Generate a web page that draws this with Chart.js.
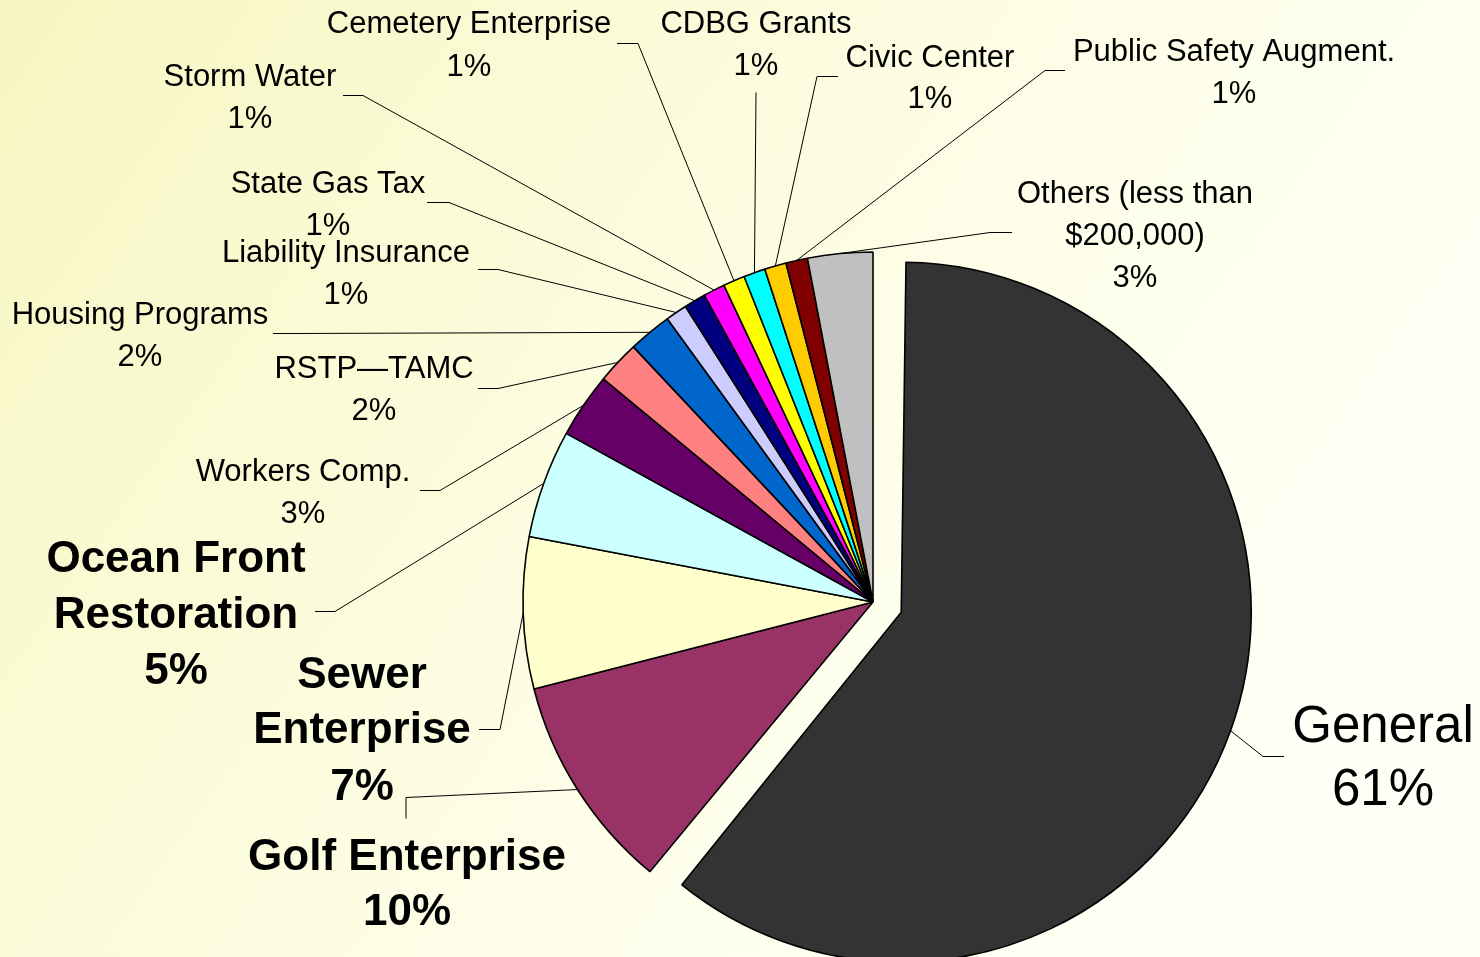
<!DOCTYPE html>
<html>
<head>
<meta charset="utf-8">
<title>Funds</title>
<script src="https://cdn.jsdelivr.net/npm/chart.js@4/dist/chart.umd.min.js"></script>
<style>
  html, body { margin: 0; padding: 0; overflow: hidden; }
  body {
    width: 1480px; height: 957px;
    background: linear-gradient(125deg, #f6f6c2 0%, #fbfbd8 30%, #fefeea 55%, #fffff4 80%, #fffff8 100%);
  }
  #wrap { position: relative; width: 1480px; height: 957px; }
</style>
</head>
<body>
<div id="wrap"><canvas id="funds"></canvas></div>
<script>
  const funds = [
    'General', 'Golf Enterprise', 'Sewer\nEnterprise', 'Ocean Front\nRestoration',
    'Workers Comp.', 'RSTP\u2014TAMC', 'Housing Programs', 'Liability Insurance',
    'State Gas Tax', 'Storm Water', 'Cemetery Enterprise', 'CDBG Grants',
    'Civic Center', 'Public Safety Augment.', 'Others (less than\n$200,000)'
  ];
  const shares = [61, 10, 7, 5, 3, 2, 2, 1, 1, 1, 1, 1, 1, 1, 3];
  const sliceColors = [
    '#333333', '#993366', '#ffffcc', '#ccffff', '#660066', '#ff8080', '#0066cc', '#ccccff',
    '#000080', '#ff00ff', '#ffff00', '#00ffff', '#ffcc00', '#800000', '#c0c0c0'
  ];

  // general fund is pulled out of the pie; chart.js moves an arc by offset/4
  const EXPLODE = 120;

  const SMALL = '31px "Liberation Sans", Arial, sans-serif';
  const BOLD = 'bold 44px "Liberation Sans", Arial, sans-serif';
  const BIG = '51px "Liberation Sans", Arial, sans-serif';

  // text centre x, baselines, and the elbow of each leader line
  const labelLayout = [
    { font: BIG,   x: 1383, y: [742, 805],      leader: [[1284, 756], [1263, 756]] },
    { font: BOLD,  x: 407,  y: [870, 925],      leader: [[406, 818], [406, 797]] },
    { font: BOLD,  x: 362,  y: [688, 743, 800], leader: [[479, 729], [500, 729]] },
    { font: BOLD,  x: 176,  y: [572, 628, 684], leader: [[315, 611], [335, 611]] },
    { font: SMALL, x: 303,  y: [481, 523],      leader: [[420, 490], [440, 490]] },
    { font: SMALL, x: 374,  y: [378, 420],      leader: [[478, 388], [498, 388]] },
    { font: SMALL, x: 140,  y: [324, 366],      leader: [[273, 333], [294, 333]] },
    { font: SMALL, x: 346,  y: [262, 304],      leader: [[478, 269], [498, 269]] },
    { font: SMALL, x: 328,  y: [193, 235],      leader: [[427, 202], [449, 202]] },
    { font: SMALL, x: 250,  y: [86, 128],       leader: [[343, 95], [363, 95]] },
    { font: SMALL, x: 469,  y: [33, 76],        leader: [[617, 43], [638, 43]] },
    { font: SMALL, x: 756,  y: [33, 75],        leader: [[756, 92]] },
    { font: SMALL, x: 930,  y: [67, 108],       leader: [[838, 76], [817, 76]] },
    { font: SMALL, x: 1234, y: [61, 103],       leader: [[1065, 70], [1045, 70]] },
    { font: SMALL, x: 1135, y: [203, 245, 287], leader: [[1012, 232], [990, 232]] }
  ];

  function arcGrow(arc) {
    const off = ((arc.options && arc.options.offset) || 0) / 4;
    const fix = 1 - Math.sin(Math.min(Math.PI, arc.endAngle - arc.startAngle));
    return { off, grow: off * fix };
  }

  // an offset arc is also drawn larger; take that back so all slices share one radius
  const explodeFix = {
    id: 'explodeFix',
    afterDatasetUpdate(chart, args) {
      args.meta.data.forEach(arc => {
        const { grow } = arcGrow(arc);
        if (grow) arc.outerRadius -= grow;
      });
    }
  };

  const sliceLabels = {
    id: 'sliceLabels',
    afterDatasetsDraw(chart) {
      const ctx = chart.ctx;
      const arcs = chart.getDatasetMeta(0).data;
      const total = shares.reduce((a, b) => a + b, 0);
      ctx.save();
      arcs.forEach((arc, i) => {
        const lay = labelLayout[i];
        const mid = (arc.startAngle + arc.endAngle) / 2;
        const { off, grow } = arcGrow(arc);
        const r = arc.outerRadius + grow + off;
        const ex = arc.x + Math.cos(mid) * r;
        const ey = arc.y + Math.sin(mid) * r;

        ctx.beginPath();
        lay.leader.forEach(([x, y], k) => k ? ctx.lineTo(x, y + 0.5) : ctx.moveTo(x, y + 0.5));
        ctx.lineTo(ex, ey);
        ctx.strokeStyle = '#000';
        ctx.lineWidth = 1;
        ctx.stroke();

        const lines = funds[i].split('\n').concat(Math.round(shares[i] / total * 100) + '%');
        ctx.font = lay.font;
        ctx.fillStyle = '#000';
        ctx.textAlign = 'center';
        ctx.textBaseline = 'alphabetic';
        lines.forEach((t, k) => ctx.fillText(t, lay.x, lay.y[k]));
      });
      ctx.restore();
    }
  };

  new Chart(document.getElementById('funds'), {
    type: 'pie',
    data: {
      labels: funds.map(f => f.replace('\n', ' ')),
      datasets: [{
        data: shares,
        backgroundColor: sliceColors,
        borderColor: '#000',
        borderWidth: 1.6,
        offset: shares.map((v, i) => (i === 0 ? EXPLODE : 0))
      }]
    },
    options: {
      responsive: true,
      maintainAspectRatio: false,
      animation: false,
      events: [],
      radius: 350,
      layout: { padding: { left: 266, right: 0, top: 247, bottom: 0 } },
      plugins: { legend: { display: false }, tooltip: { enabled: false } }
    },
    plugins: [explodeFix, sliceLabels]
  });
</script>
</body>
</html>
